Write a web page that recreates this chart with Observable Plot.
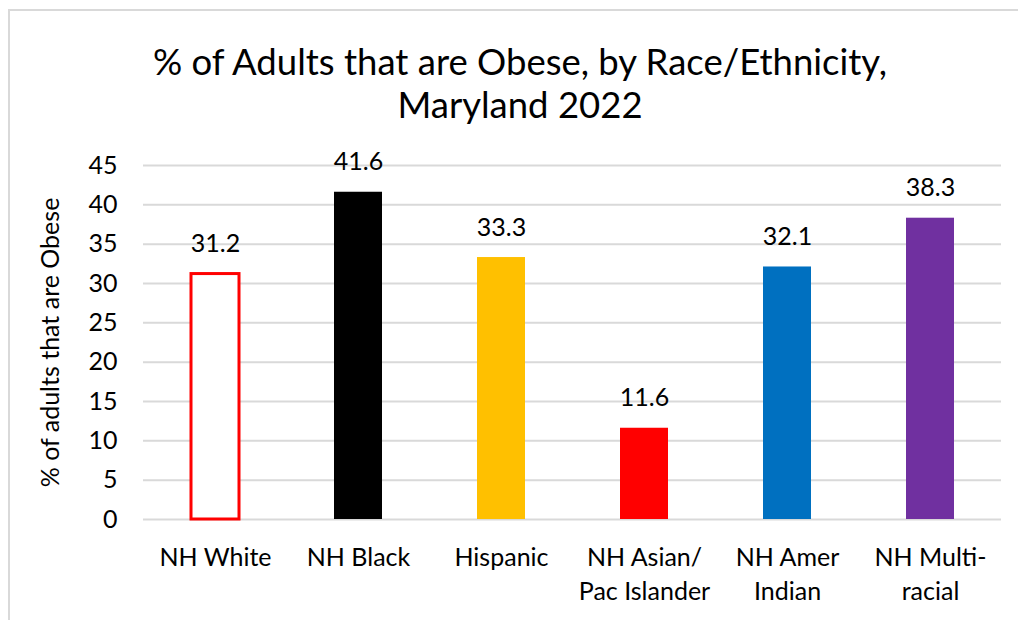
<!DOCTYPE html>
<html><head><meta charset="utf-8">
<script src="https://cdn.jsdelivr.net/npm/d3@7"></script>
<script src="https://cdn.jsdelivr.net/npm/@observablehq/plot@0.6"></script>
<style>
body{margin:0;background:#fff;font-family:Lato,sans-serif;}
#wrap{position:relative;width:1018px;height:620px;overflow:hidden;background:#fff;}
#frame{position:absolute;left:8px;top:9px;width:1030px;height:640px;border-top:2px solid #d9d9d9;border-left:2px solid #d9d9d9;}
#title{position:absolute;left:0;width:1040px;top:40px;text-align:center;font-size:36.5px;line-height:43px;color:#000;}
#chart{position:absolute;left:0;top:140px;}
</style></head><body>
<div id="wrap"><div id="frame"></div>
<div id="title">% of Adults that are Obese, by Race/Ethnicity,<br>Maryland 2022</div>
<div id="chart"></div></div>
<script>
const categories = ["NH White", "NH Black", "Hispanic", "NH Asian/\nPac Islander", "NH Amer\nIndian", "NH Multi-\nracial"];
const values = [31.2, 41.6, 33.3, 11.6, 32.1, 38.3];
const fills = ["#ffffff", "#000000", "#ffc000", "#ff0000", "#0070c0", "#7030a0"];
const strokes = ["#ff0000", "none", "none", "none", "none", "none"];
const yTicks = [0, 5, 10, 15, 20, 25, 30, 35, 40, 45];
const yLabel = "% of adults that are Obese";

const data = categories.map((c, i) => ({cat: c, value: values[i], fill: fills[i], stroke: strokes[i]}));

const chart = Plot.plot({
  width: 1018,
  height: 480,
  marginTop: 25,
  marginBottom: 101,
  marginLeft: 143,
  marginRight: 17,
  style: {fontFamily: "Lato, sans-serif", color: "#000", background: "transparent"},
  x: {domain: categories, paddingInner: 0.665, paddingOuter: 0.3325, label: null},
  y: {domain: [0, 45], label: null},
  marks: [
    Plot.ruleY(yTicks, {stroke: "#d9d9d9", strokeWidth: 2}),
    Plot.barY(data, {x: "cat", y: "value", fill: d => d.fill, stroke: d => d.stroke, strokeWidth: 3, inset: 0}),
    Plot.text(data, {x: "cat", y: "value", text: d => d.value.toFixed(1), dy: -30, lineAnchor: "middle", fontSize: 25, fill: "#000"}),
    Plot.axisY({ticks: yTicks, tickSize: 0, tickPadding: 26, fontSize: 25, label: null}),
    Plot.axisX({tickSize: 0, tickPadding: 22, fontSize: 25, lineHeight: 1.36, label: null}),
    Plot.text([yLabel], {frameAnchor: "left", dx: -93, rotate: -90, fontSize: 25, textAnchor: "middle", lineAnchor: "middle", fill: "#000"})
  ]
});
document.getElementById("chart").appendChild(chart);
</script>
</body></html>
